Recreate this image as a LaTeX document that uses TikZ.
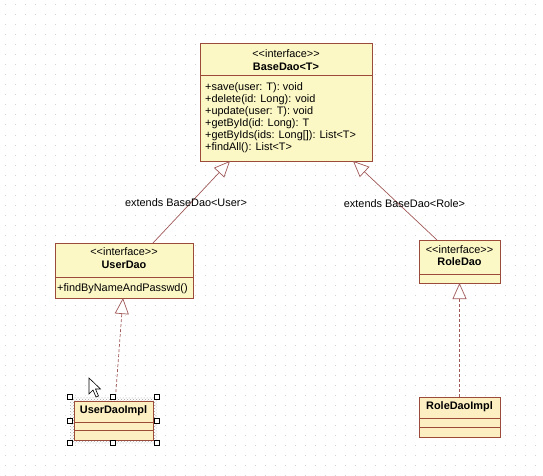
\documentclass[tikz,border=0pt]{standalone}
\usepackage{fontspec}
\setmainfont{Liberation Sans}
\usetikzlibrary{arrows.meta,patterns}
\definecolor{umlborder}{HTML}{9C4A3A}
\definecolor{ifill}{HTML}{FCF8C6}
\definecolor{cfill}{HTML}{FCEFC2}
\definecolor{umlline}{HTML}{A05858}
\definecolor{griddot}{HTML}{D4D4D4}
\tikzset{
 ibox/.style={draw=umlborder,line width=0.9pt,fill=ifill,inner sep=0pt,outer sep=0pt},
 cbox/.style={ibox,fill=cfill},
 divider/.style={draw=umlborder,line width=0.9pt},
 txt/.style={inner sep=0pt,font=\fontsize{10.9}{12}\selectfont,text height=8pt,text depth=2.5pt},
 btxt/.style={txt,font=\fontsize{10.9}{12}\selectfont\bfseries},
 meth/.style={txt,anchor=west},
 gen/.style={draw=umlline,line width=0.7pt,-{Triangle[open,length=16pt,width=14pt,fill=white]}},
 realiz/.style={gen,dash pattern=on 3pt off 2pt},
 handle/.style={draw=black,fill=white,line width=0.6pt,minimum size=5pt,inner sep=0pt}
}
\newcommand{\stereo}{<{}<interface>{}>}
\begin{document}
\begin{tikzpicture}[x=1pt,y=-1pt]
\useasboundingbox (0,0) rectangle (543,476);
\fill[white] (0,0) rectangle (543,476);
% dotted grid
\foreach \i in {0,...,54}{
  \foreach \j in {0,...,47}{
    \fill[griddot] (\i*10+4.5,\j*10+4.5) rectangle ++(1,1);
  }
}
% BaseDao
\node[ibox,minimum width=172pt,minimum height=118pt] (BaseDao) at (286,102) {};
\draw[divider] ([yshift=-32pt]BaseDao.north west) -- ([yshift=-32pt]BaseDao.north east);
\node[txt] (bst) at (286,55) {\stereo};
\node[btxt] (bname) at (286,68) {BaseDao<T>};
\node[meth] (m1) at (205,88) {+save(user: T): void};
\node[meth] (m2) at (205,100) {+delete(id: Long): void};
\node[meth] (m3) at (205,112) {+update(user: T): void};
\node[meth] (m4) at (205,124) {+getById(id: Long): T};
\node[meth] (m5) at (205,136) {+getByIds(ids: Long[]): List<T>};
\node[meth] (m6) at (205,148) {+findAll(): List<T>};
% UserDao
\node[ibox,minimum width=138pt,minimum height=55pt] (UserDao) at (124,270.5) {};
\draw[divider] ([yshift=-34pt]UserDao.north west) -- ([yshift=-34pt]UserDao.north east);
\node[txt] (ust) at (124,253) {\stereo};
\node[btxt] (uname) at (124,266) {UserDao};
\node[meth] (um1) at (57,289) {+findByNameAndPasswd()};
% RoleDao
\node[ibox,minimum width=81pt,minimum height=43pt] (RoleDao) at (459.5,261.5) {};
\draw[divider] ([yshift=-34pt]RoleDao.north west) -- ([yshift=-34pt]RoleDao.north east);
\node[txt] (rst) at (459.5,251) {\stereo};
\node[btxt] (rname) at (459.5,263) {RoleDao};
% selection band of UserDaoImpl
\fill[pattern=crosshatch dots,pattern color=gray!70] (70,397) rectangle (157,443);
% UserDaoImpl
\node[cbox,minimum width=79pt,minimum height=39pt] (UserDaoImpl) at (113.5,420.5) {};
\draw[divider] ([yshift=-21pt]UserDaoImpl.north west) -- ([yshift=-21pt]UserDaoImpl.north east);
\draw[divider] ([yshift=-29pt]UserDaoImpl.north west) -- ([yshift=-29pt]UserDaoImpl.north east);
\node[btxt] (uiname) at (113.5,411) {UserDaoImpl};
% RoleDaoImpl
\node[cbox,minimum width=81pt,minimum height=40pt] (RoleDaoImpl) at (459.5,417) {};
\draw[divider] ([yshift=-21pt]RoleDaoImpl.north west) -- ([yshift=-21pt]RoleDaoImpl.north east);
\draw[divider] ([yshift=-30pt]RoleDaoImpl.north west) -- ([yshift=-30pt]RoleDaoImpl.north east);
\node[btxt] (riname) at (459.5,407) {RoleDaoImpl};
% connectors
\draw[gen] ([xshift=29pt]UserDao.north) -- ([xshift=-56pt]BaseDao.south);
\draw[gen] ([xshift=-22.5pt]RoleDao.north) -- ([xshift=67pt]BaseDao.south);
\draw[realiz] ([xshift=2pt,yshift=4pt]UserDaoImpl.north) -- ([xshift=-1pt]UserDao.south);
\draw[realiz] (RoleDaoImpl.north) -- (RoleDao.south);
% labels
\node[txt] (l1) at (186,204) {extends BaseDao<User>};
\node[txt] (l2) at (404.5,205) {extends BaseDao<Role>};
% handles
\foreach \hx/\hy [count=\k] in {70/397,113/397,157/397,70/421,157/421,70/443,113/443,157/443}{
  \node[handle] (h\k) at (\hx,\hy) {};
}
% mouse cursor
\draw[fill=white,line width=0.6pt,line join=miter] (89,378) -- (89,394) -- (93,390) -- (96,397) -- (98.5,396) -- (95.5,389) -- (100.5,389) -- cycle;
\end{tikzpicture}
\end{document}
